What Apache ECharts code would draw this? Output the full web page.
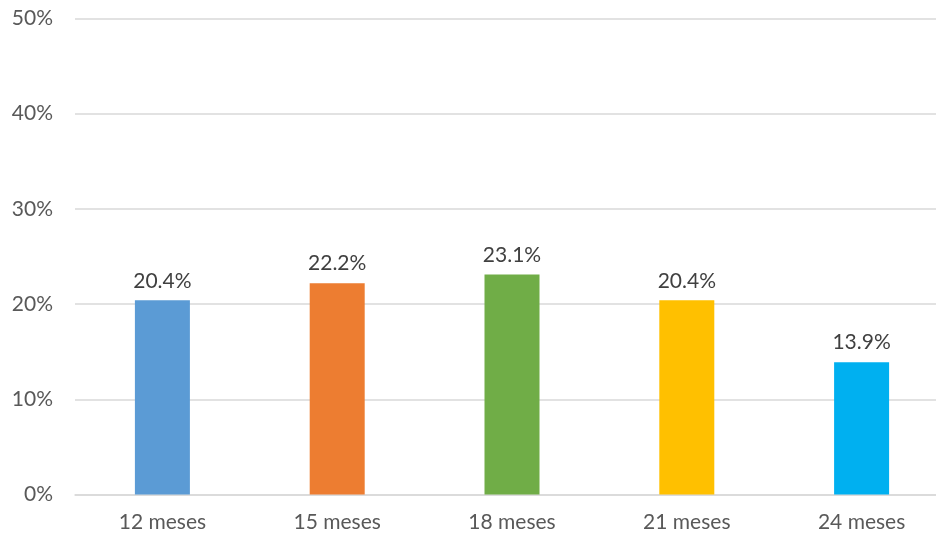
<!DOCTYPE html>
<html><head><meta charset="utf-8">
<script src="https://cdn.jsdelivr.net/npm/echarts@6/dist/echarts.min.js"></script>
<style>html,body{margin:0;padding:0;background:#fff}#c{width:936px;height:537px}</style>
</head><body><div id="c"></div>
<script>
const categories = ['12 meses','15 meses','18 meses','21 meses','24 meses'];
const values = [20.4, 22.2, 23.1, 20.4, 13.9];
const colors = ['#5B9BD5','#ED7D31','#70AD47','#FFC000','#00B0F0'];
const yTicks = [0,10,20,30,40,50];

const chart = echarts.init(document.getElementById('c'), null, {renderer:'canvas'});
chart.setOption({
  animation:false,
  grid:{left:75, top:18.5, width:874, height:476, containLabel:false, outerBoundsMode:'none'},
  xAxis:{type:'category', data:categories,
    axisLine:{lineStyle:{color:'#D9D9D9', width:1.5}}, axisTick:{show:false},
    axisLabel:{color:'#595959', fontFamily:'Lato', fontSize:21, margin:17}},
  yAxis:{type:'value', min:yTicks[0], max:yTicks[yTicks.length-1], interval:10,
    axisLine:{show:false}, axisTick:{show:false},
    splitLine:{lineStyle:{color:'#D9D9D9', width:1.5}},
    axisLabel:{color:'#595959', fontFamily:'Lato', fontSize:21, margin:22, formatter:v=>v+'%'}},
  series:[{type:'bar', barWidth:55,
    data:values.map((v,i)=>({value:v, itemStyle:{color:colors[i]}})),
    label:{show:true, position:'top', distance:9, color:'#404040', fontFamily:'Lato', fontSize:21,
      formatter:p=>p.value.toFixed(1)+'%'}}]
});
</script></body></html>
